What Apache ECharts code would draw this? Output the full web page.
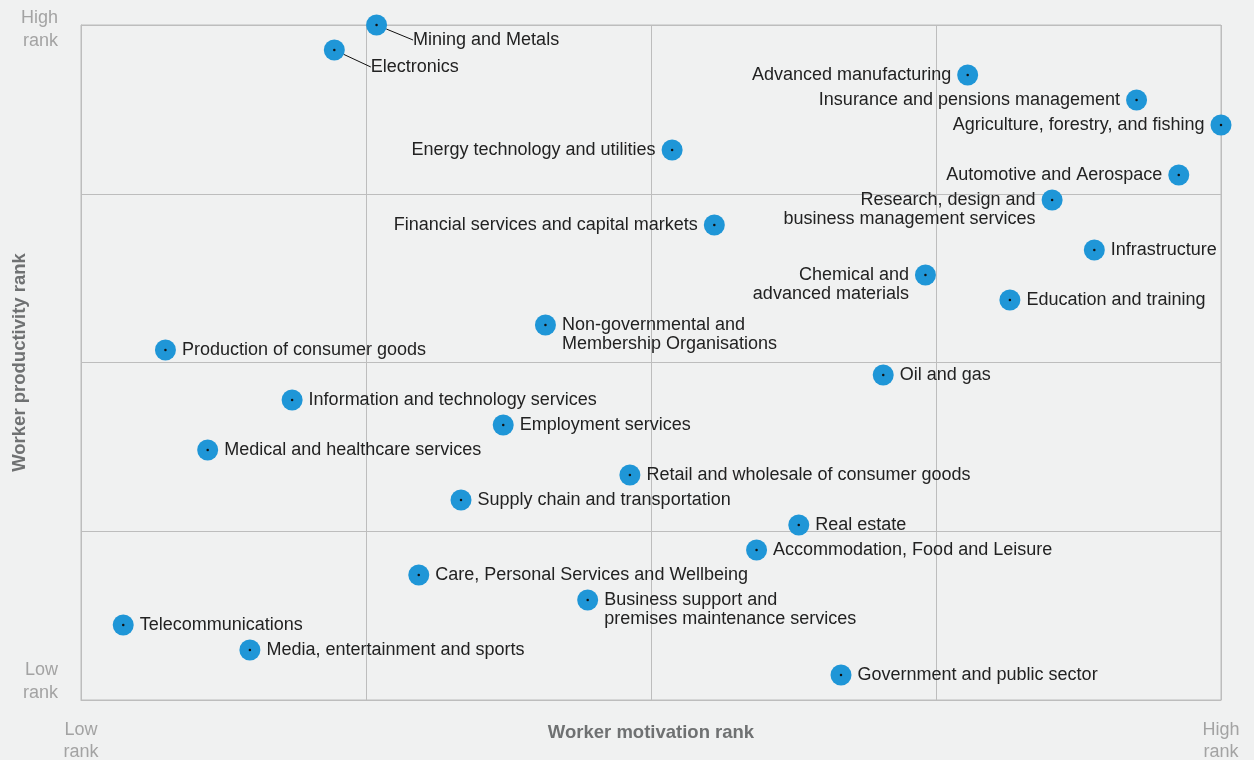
<!DOCTYPE html>
<html>
<head>
<meta charset="utf-8">
<script src="https://cdn.jsdelivr.net/npm/echarts@6/dist/echarts.min.js"></script>
<style>
  html, body { margin: 0; padding: 0; background: #f0f1f1; }
  #chart { width: 1254px; height: 760px; }
</style>
</head>
<body>
<div id="chart"></div>
<script>
// industries, with their worker motivation rank (x) and worker productivity rank (y)
const industries = [
  'Mining and Metals',
  'Electronics',
  'Advanced manufacturing',
  'Insurance and pensions management',
  'Agriculture, forestry, and fishing',
  'Energy technology and utilities',
  'Automotive and Aerospace',
  'Research, design and\nbusiness management services',
  'Financial services and capital markets',
  'Infrastructure',
  'Chemical and\nadvanced materials',
  'Education and training',
  'Non-governmental and\nMembership Organisations',
  'Production of consumer goods',
  'Oil and gas',
  'Information and technology services',
  'Employment services',
  'Medical and healthcare services',
  'Retail and wholesale of consumer goods',
  'Supply chain and transportation',
  'Real estate',
  'Accommodation, Food and Leisure',
  'Care, Personal Services and Wellbeing',
  'Business support and\npremises maintenance services',
  'Telecommunications',
  'Media, entertainment and sports',
  'Government and public sector'
]
const motivationRank = [7, 6, 21, 25, 27, 14, 26, 23, 15, 24, 20, 22, 11, 2, 19, 5, 10, 3, 13, 9, 17, 16, 8, 12, 1, 4, 18]
const productivityRank = [27, 26, 25, 24, 23, 22, 21, 20, 19, 18, 17, 16, 15, 14, 13, 12, 11, 10, 9, 8, 7, 6, 5, 4, 3, 2, 1]
const rankMax = 27

// labels that sit on the left of their dot
const leftLabels = [
  'Advanced manufacturing',
  'Insurance and pensions management',
  'Agriculture, forestry, and fishing',
  'Energy technology and utilities',
  'Automotive and Aerospace',
  'Research, design and\nbusiness management services',
  'Financial services and capital markets',
  'Chemical and\nadvanced materials'
]
// labels pulled away from the dot with a guide line
const leaderLabels = {
  'Mining and Metals': [20, 15],
  'Electronics': [20, 17]
}

const dotColor = '#1f96d7'
const gridColor = '#bdbdbd'
const rankColor = '#a3a3a3'
const nameColor = '#6f7172'
const font = 'Liberation Sans, Arial, Helvetica, sans-serif'

const points = industries.map((name, i) => {
  const item = { name: name, value: [motivationRank[i], productivityRank[i]] }
  if (leftLabels.indexOf(name) >= 0) item.label = { position: 'left' }
  if (leaderLabels[name]) item.labelLine = { show: true }
  return item
})

const chart = echarts.init(document.getElementById('chart'))

chart.setOption({
  backgroundColor: '#f0f1f1',
  animation: false,
  grid: {
    left: 81,
    right: 33,
    top: 25,
    bottom: 60,
    containLabel: false,
    outerBoundsMode: 'none',
    show: true,
    borderColor: gridColor,
    borderWidth: 1
  },
  xAxis: {
    type: 'value',
    min: 0,
    max: rankMax,
    interval: rankMax / 4,
    name: 'Worker motivation rank',
    nameLocation: 'middle',
    nameGap: 23,
    nameMoveOverlap: false,
    nameTextStyle: { color: nameColor, fontWeight: 'bold', fontSize: 18.5, fontFamily: font },
    axisLine: { lineStyle: { color: gridColor } },
    axisTick: { show: false },
    splitLine: { lineStyle: { color: gridColor, width: 1 } },
    axisLabel: {
      showMinLabel: true,
      showMaxLabel: true,
      margin: 19,
      color: rankColor,
      fontSize: 18,
      lineHeight: 22,
      fontFamily: font,
      formatter: (v) => (v === 0 ? 'Low\nrank' : v === rankMax ? 'High\nrank' : '')
    }
  },
  yAxis: {
    type: 'value',
    min: 0,
    max: rankMax,
    interval: rankMax / 4,
    name: 'Worker productivity rank',
    nameLocation: 'middle',
    nameGap: 52,
    nameMoveOverlap: false,
    nameTextStyle: { color: nameColor, fontWeight: 'bold', fontSize: 18.5, fontFamily: font },
    axisLine: { show: true, lineStyle: { color: gridColor } },
    axisTick: { show: false },
    splitLine: { lineStyle: { color: gridColor, width: 1 } },
    axisLabel: {
      showMinLabel: true,
      showMaxLabel: true,
      margin: 23,
      align: 'right',
      verticalAlign: 'middle',
      color: rankColor,
      fontSize: 18,
      fontFamily: font,
      formatter: (v) => {
        if (v === 0) return '{r|Low}\n{r|rank}\n{gapLow| }'
        if (v === rankMax) return '{gapHigh| }\n{r|High}\n{r|rank}'
        return ''
      },
      rich: {
        r: { color: rankColor, fontSize: 18, fontFamily: font, lineHeight: 23, align: 'right' },
        gapLow: { fontSize: 1, lineHeight: 36, height: 36 },
        gapHigh: { fontSize: 1, lineHeight: 9, height: 9 }
      }
    }
  },
  series: [
    {
      type: 'scatter',
      data: points,
      symbolSize: 21,
      itemStyle: { color: dotColor, opacity: 1 },
      label: {
        show: true,
        position: 'right',
        distance: 6,
        formatter: '{b}',
        color: '#222222',
        fontSize: 18,
        lineHeight: 19,
        fontFamily: font
      },
      labelLine: {
        show: false,
        showAbove: true,
        lineStyle: { color: '#111111', width: 1 }
      },
      labelLayout: (params) => {
        const name = industries[params.dataIndex]
        const d = leaderLabels[name]
        if (d) return { dx: d[0], dy: d[1] }
        // two-line labels: first line level with the dot
        if (name.indexOf('\n') >= 0) return { dy: 9.5 }
        return {}
      },
      z: 2
    },
    {
      type: 'scatter',
      data: industries.map((name, i) => [motivationRank[i], productivityRank[i]]),
      symbolSize: 2.5,
      itemStyle: { color: '#111111', opacity: 1 },
      silent: true,
      z: 3
    }
  ]
})
</script>
</body>
</html>
